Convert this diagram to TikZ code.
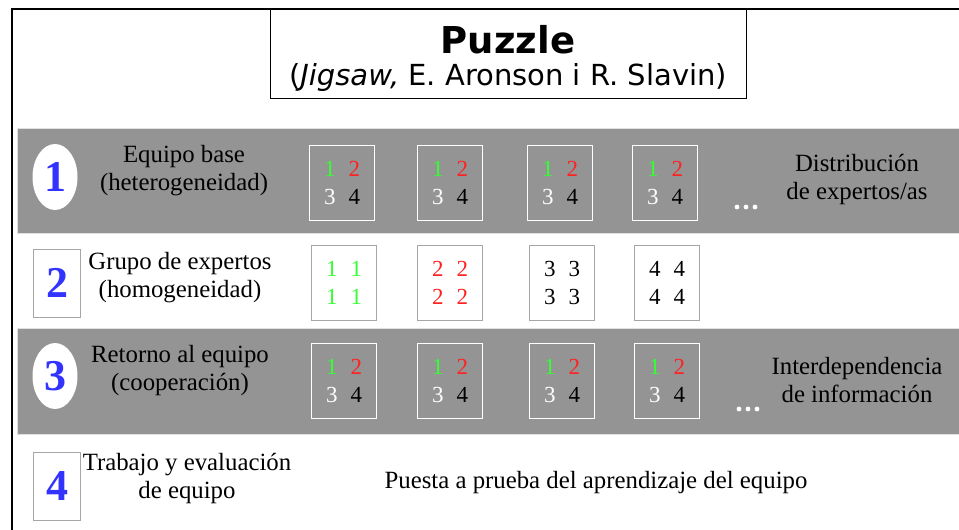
\documentclass[tikz,border=0pt]{standalone}
\usepackage{xcolor}
\usepackage{fontspec}
\setmainfont{Liberation Serif}
\newfontfamily\titlesans{DejaVu Sans}
\usepackage{tikz}
\usetikzlibrary{shapes.geometric, positioning}
\definecolor{bandgray}{HTML}{949494}
\definecolor{stepblue}{HTML}{3333FF}
\definecolor{onegreen}{HTML}{33FF33}
\definecolor{twored}{HTML}{FF2222}
\newcommand{\phasefont}{\fontsize{24.8}{28}\selectfont}
\newcommand{\numfont}{\fontsize{44}{44}\selectfont\bfseries}
\newcommand{\cellfont}{\fontsize{23}{28}\selectfont}
\newcommand{\mixcell}{\textcolor{onegreen}{1}\hspace{13pt}\textcolor{twored}{2}\\\textcolor{white}{3}\hspace{13pt}4}
\newcommand{\samecell}[2]{\textcolor{#1}{#2}\hspace{13pt}\textcolor{#1}{#2}\\\textcolor{#1}{#2}\hspace{13pt}\textcolor{#1}{#2}}
\tikzset{
  band/.style={fill=bandgray, draw=black!12},
  stepoval/.style={ellipse, fill=white, minimum width=45pt, minimum height=66pt, inner sep=0pt, text=stepblue, font=\numfont},
  stepsquare/.style={rectangle, draw=black!35, fill=white, minimum width=47pt, minimum height=68pt, inner sep=0pt, text=stepblue, font=\numfont},
  phase/.style={align=center, font=\phasefont},
  teambox/.style={draw=white, minimum width=65pt, minimum height=75pt, inner sep=0pt, align=center, font=\cellfont},
  expertbox/.style={teambox, draw=black!35},
}

\begin{document}
\begin{tikzpicture}[x=1pt, y=-1pt]
    \useasboundingbox (0,0) rectangle (959,530);
    % frame and title
    \draw[line width=2pt] (12,530) -- (12,9) -- (959,9);
    \node[draw, thick, minimum width=476pt, minimum height=89pt, inner sep=0pt] (title) at (508,53.5) {};
    \node[font=\titlesans\bfseries\fontsize{37}{40}\selectfont] (puzzle) at (508,40) {Puzzle};
    \node[font=\titlesans\fontsize{29}{32}\selectfont] (authors) at (508,77) {(\textit{Jigsaw,} E. Aronson i R. Slavin)};

    % bands
    \draw[band] (17,128) rectangle (960,233);
    \draw[band] (17,328) rectangle (960,434);

    % step 1
    \node[stepoval] (step1) at (55,177) {1};
    \node[phase] (base) at (184,171) {Equipo base\\(heterogeneidad)};
    \foreach \x [count=\i] in {342,450,560,665}
        \node[teambox] (base\i) at (\x,182.5) {\mixcell};
    \foreach \x in {737,746,755}
        \fill[white] (\x,207) circle (2.4pt);
    \node[phase] (distrib) at (857,180) {Distribución\\de expertos/as};

    % step 2
    \node[stepsquare] (step2) at (57,283) {2};
    \node[phase] (experts) at (180,278) {Grupo de expertos\\(homogeneidad)};
    \node[expertbox] (expert1) at (344,282.5) {\samecell{onegreen}{1}};
    \node[expertbox] (expert2) at (450,282.5) {\samecell{twored}{2}};
    \node[expertbox] (expert3) at (562,282.5) {\samecell{black}{3}};
    \node[expertbox] (expert4) at (667,282.5) {\samecell{black}{4}};

    % step 3
    \node[stepoval] (step3) at (55,376) {3};
    \node[phase] (return) at (180,371) {Retorno al equipo\\(cooperación)};
    \foreach \x [count=\i] in {344,450,562,667}
        \node[teambox] (back\i) at (\x,380.5) {\mixcell};
    \foreach \x in {739,748,757}
        \fill[white] (\x,409) circle (2.4pt);
    \node[phase] (interdep) at (857,380) {Interdependencia\\de información};

    % step 4
    \node[stepsquare] (step4) at (57,486) {4};
    \node[phase] (work) at (187,479) {Trabajo y evaluación\\de equipo};
    \node[phase] (test) at (596,483) {Puesta a prueba del aprendizaje del equipo};
\end{tikzpicture}
\end{document}
